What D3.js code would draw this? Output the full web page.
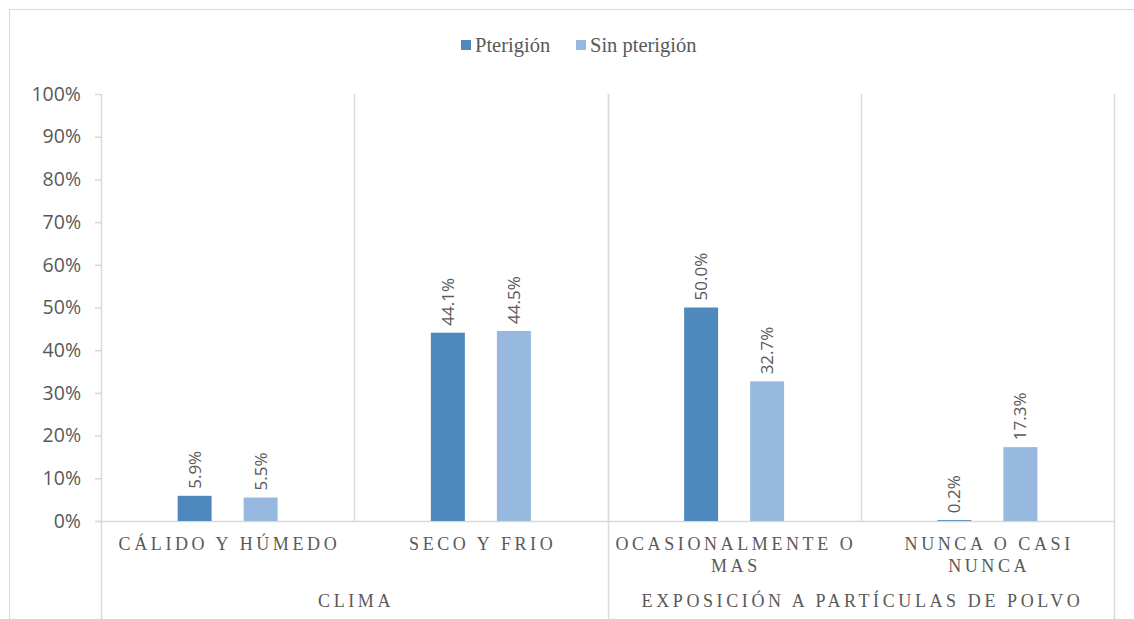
<!DOCTYPE html>
<html>
<head>
<meta charset="utf-8">
<script src="https://cdn.jsdelivr.net/npm/d3@7"></script>
<style>
  body { margin: 0; background: #fff; }
  svg { display: block; }
</style>
</head>
<body>
<div id="chart"></div>
<script>
const categories = ["CÁLIDO Y HÚMEDO", "SECO Y FRIO", "OCASIONALMENTE O MAS", "NUNCA O CASI NUNCA"];
const groups = ["CLIMA", "CLIMA", "EXPOSICIÓN A PARTÍCULAS DE POLVO", "EXPOSICIÓN A PARTÍCULAS DE POLVO"];
const seriesNames = ["Pterigión", "Sin pterigión"];
const pterigion = [0.059, 0.441, 0.500, 0.002];
const sinPterigion = [0.055, 0.445, 0.327, 0.173];
const yTicks = [0, 0.1, 0.2, 0.3, 0.4, 0.5, 0.6, 0.7, 0.8, 0.9, 1.0];

const colors = ["#4f88bd", "#97b9e0"];
const gridColor = "#d9d9d9";
const textColor = "#595959";

const W = 1134, H = 619;
const plot = {left: 101, right: 1114, top: 94, bottom: 521};

const svg = d3.select("#chart").append("svg")
  .attr("width", W)
  .attr("height", H);

// outer chart border
svg.append("rect")
  .attr("x", 9.5).attr("y", 9.5)
  .attr("width", 1140).attr("height", 700)
  .attr("fill", "none")
  .attr("stroke", gridColor);

const x0 = d3.scaleBand()
  .domain(categories)
  .range([plot.left, plot.right])
  .padding(0);

const x1 = d3.scaleBand()
  .domain(seriesNames)
  .range([-50, 50])
  .paddingInner(0.485)
  .paddingOuter(0);

const y = d3.scaleLinear()
  .domain([0, 1])
  .range([plot.bottom, plot.top]);

// vertical gridlines at category boundaries (inside plot)
svg.append("g")
  .selectAll("line")
  .data(categories.slice(1))
  .join("line")
  .attr("x1", d => Math.round(x0(d)) + 0.5)
  .attr("x2", d => Math.round(x0(d)) + 0.5)
  .attr("y1", plot.top)
  .attr("y2", plot.bottom)
  .attr("stroke", gridColor)
  .attr("stroke-width", 1.5);

// y axis
const yAxis = svg.append("g")
  .attr("transform", `translate(${plot.left},0)`)
  .call(d3.axisLeft(y).tickValues(yTicks).tickFormat(d3.format(".0%")).tickSize(6).tickPadding(14));
yAxis.select(".domain").remove();
yAxis.selectAll(".tick line").attr("stroke", gridColor).attr("stroke-width", 1.5);
yAxis.selectAll(".tick text")
  .attr("fill", textColor)
  .style("font-family", "'Open Sans', sans-serif")
  .style("font-size", "19.5px");

// frame lines: left axis line, right line, middle group divider (extend to bottom)
const fullLines = [plot.left, x0(categories[2]), plot.right];
svg.append("g")
  .selectAll("line")
  .data(fullLines)
  .join("line")
  .attr("x1", d => Math.round(d) + 0.5)
  .attr("x2", d => Math.round(d) + 0.5)
  .attr("y1", plot.top)
  .attr("y2", H)
  .attr("stroke", gridColor)
  .attr("stroke-width", 1.5);

// x axis line
svg.append("line")
  .attr("x1", plot.left - 6).attr("x2", plot.right)
  .attr("y1", plot.bottom + 0.5).attr("y2", plot.bottom + 0.5)
  .attr("stroke", gridColor)
  .attr("stroke-width", 1.5);

// bars
const rows = categories.map((c, i) => ({cat: c, values: [pterigion[i], sinPterigion[i]]}));

const catG = svg.append("g")
  .selectAll("g")
  .data(rows)
  .join("g")
  .attr("transform", d => `translate(${x0(d.cat) + x0.bandwidth() / 2},0)`);

catG.selectAll("rect")
  .data(d => d.values.map((v, j) => ({name: seriesNames[j], v, j})))
  .join("rect")
  .attr("x", d => x1(d.name))
  .attr("y", d => y(d.v))
  .attr("width", x1.bandwidth())
  .attr("height", d => y(0) - y(d.v))
  .attr("fill", d => colors[d.j]);

// rotated data labels
catG.selectAll("text")
  .data(d => d.values.map((v, j) => ({name: seriesNames[j], v, j})))
  .join("text")
  .attr("transform", d => `translate(${x1(d.name) + x1.bandwidth() / 2 + 6},${y(d.v) - 7}) rotate(-90)`)
  .attr("text-anchor", "start")
  .attr("fill", textColor)
  .style("font-family", "'Open Sans', sans-serif")
  .style("font-size", "17px")
  .text(d => d3.format(".1%")(d.v));

// category labels (wrapped)
function wrapLines(text, maxWidth, measure) {
  const words = text.split(" ");
  const lines = [];
  let line = [];
  words.forEach(w => {
    const test = line.concat(w).join(" ");
    if (line.length && measure(test) > maxWidth) {
      lines.push(line.join(" "));
      line = [w];
    } else {
      line.push(w);
    }
  });
  if (line.length) lines.push(line.join(" "));
  return lines;
}

const measurer = svg.append("text")
  .style("font-family", "'Liberation Serif', 'Times New Roman', serif")
  .style("font-size", "18px")
  .style("letter-spacing", "3.6px")
  .attr("visibility", "hidden");
const measure = s => { measurer.text(s); return measurer.node().getComputedTextLength(); };

const catLabels = svg.append("g");
categories.forEach(c => {
  const lines = wrapLines(c, 250, measure);
  const t = catLabels.append("text")
    .attr("x", x0(c) + x0.bandwidth() / 2)
    .attr("y", 550)
    .attr("text-anchor", "middle")
    .attr("fill", textColor)
    .style("font-family", "'Liberation Serif', 'Times New Roman', serif")
    .style("font-size", "18px")
    .style("letter-spacing", "3.6px");
  lines.forEach((l, k) => {
    t.append("tspan")
      .attr("x", x0(c) + x0.bandwidth() / 2 + 1.8)
      .attr("dy", k === 0 ? 0 : 22)
      .text(l);
  });
});
measurer.remove();

// group labels
const groupNames = Array.from(new Set(groups));
groupNames.forEach(g => {
  const cats = categories.filter((c, i) => groups[i] === g);
  const x = (x0(cats[0]) + x0(cats[cats.length - 1]) + x0.bandwidth()) / 2;
  svg.append("text")
    .attr("x", x + 1.8)
    .attr("y", 607)
    .attr("text-anchor", "middle")
    .attr("fill", textColor)
    .style("font-family", "'Liberation Serif', 'Times New Roman', serif")
    .style("font-size", "18px")
    .style("letter-spacing", "3.6px")
    .text(g);
});

// legend
const legend = svg.append("g").attr("transform", "translate(0,45)");
const legendItems = [{name: seriesNames[0], x: 461}, {name: seriesNames[1], x: 576}];
legendItems.forEach((d, i) => {
  legend.append("rect")
    .attr("x", d.x).attr("y", -5)
    .attr("width", 10).attr("height", 10)
    .attr("fill", colors[i]);
  legend.append("text")
    .attr("x", d.x + 14)
    .attr("y", 7)
    .attr("fill", textColor)
    .style("font-family", "'Liberation Serif', 'Times New Roman', serif")
    .style("font-size", "20.5px")
    .text(d.name);
});
</script>
</body>
</html>
